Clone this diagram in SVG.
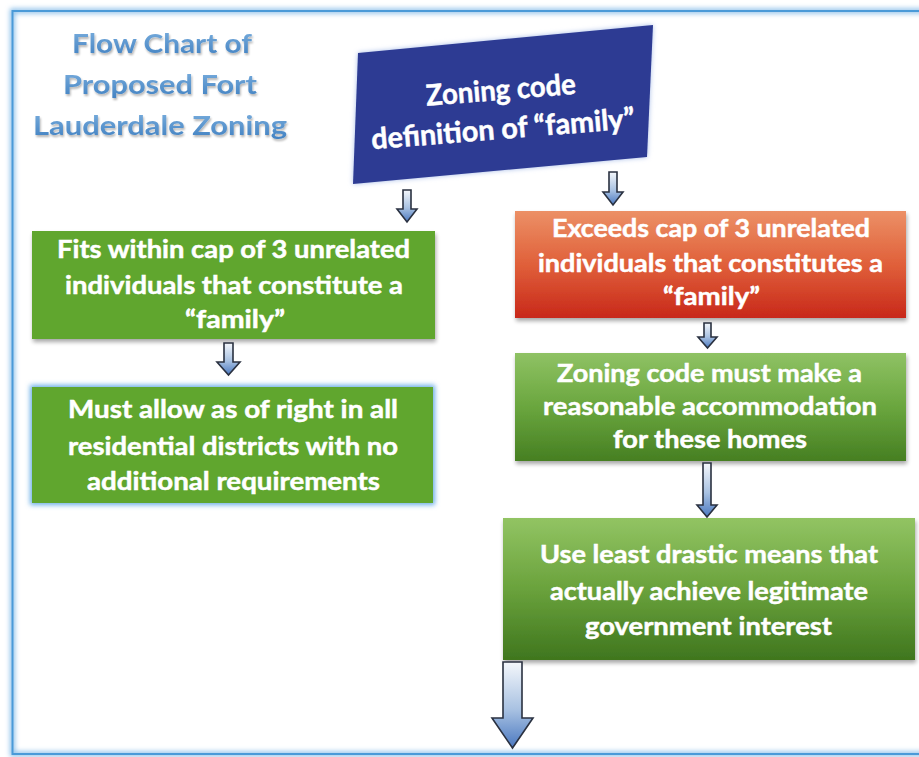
<svg xmlns="http://www.w3.org/2000/svg" width="919" height="757" viewBox="0 0 919 757">
<style>
.t{font-family:Lato,"Open Sans","Liberation Sans",sans-serif;font-weight:bold;fill:#ffffff;stroke:#ffffff;stroke-width:0.5;text-anchor:middle;}
.box{font-size:25.5px;}
.title{font-family:Lato,"Open Sans","Liberation Sans",sans-serif;font-weight:bold;font-size:27.5px;text-anchor:middle;fill:url(#titleGrad);}
.arr{stroke:#2a3140;stroke-width:1.6;fill:url(#arrGrad);stroke-linejoin:miter;}
</style>
<defs>
<linearGradient id="titleGrad" x1="0" y1="0" x2="0" y2="1">
<stop offset="0" stop-color="#7fb2e0"/>
<stop offset="1" stop-color="#3f7fc0"/>
</linearGradient>
<linearGradient id="arrGrad" x1="0" y1="0" x2="0" y2="1">
<stop offset="0" stop-color="#f4f7fb"/>
<stop offset="0.55" stop-color="#a9c2e2"/>
<stop offset="1" stop-color="#4a78c0"/>
</linearGradient>
<linearGradient id="redGrad" x1="0" y1="0" x2="0" y2="1">
<stop offset="0" stop-color="#ec9066"/>
<stop offset="0.5" stop-color="#e0603a"/>
<stop offset="1" stop-color="#c8281a"/>
</linearGradient>
<linearGradient id="g3Grad" x1="0" y1="0" x2="0" y2="1">
<stop offset="0" stop-color="#8fc264"/>
<stop offset="0.5" stop-color="#6aa63e"/>
<stop offset="1" stop-color="#467f22"/>
</linearGradient>
<linearGradient id="g4Grad" x1="0" y1="0" x2="0" y2="1">
<stop offset="0" stop-color="#92c463"/>
<stop offset="0.5" stop-color="#6aa23c"/>
<stop offset="1" stop-color="#3f761e"/>
</linearGradient>
<filter id="shadow" x="-10%" y="-10%" width="120%" height="130%">
<feGaussianBlur in="SourceAlpha" stdDeviation="2"/>
<feOffset dx="1" dy="3" result="o"/>
<feComponentTransfer><feFuncA type="linear" slope="0.35"/></feComponentTransfer>
<feMerge><feMergeNode/><feMergeNode in="SourceGraphic"/></feMerge>
</filter>
<filter id="glow" x="-10%" y="-15%" width="120%" height="130%">
<feGaussianBlur stdDeviation="2.5"/>
</filter>
<filter id="tshadow" x="-5%" y="-20%" width="110%" height="140%">
<feGaussianBlur in="SourceAlpha" stdDeviation="1"/>
<feOffset dx="1" dy="1.5"/>
<feComponentTransfer><feFuncA type="linear" slope="0.3"/></feComponentTransfer>
<feMerge><feMergeNode/><feMergeNode in="SourceGraphic"/></feMerge>
</filter>
</defs>
<rect width="919" height="757" fill="#ffffff"/>
<g id="frame">
<path d="M925,11 L12.5,11 L12.5,754 L925,754" fill="none" stroke="#8cc0ea" stroke-width="5" filter="url(#glow)"/>
<path d="M925,11 L12.5,11 L12.5,754 L925,754" fill="none" stroke="#4a9ad8" stroke-width="2"/>
</g>
<g id="title" filter="url(#tshadow)">
<text class="title" x="162" y="53" textLength="180" lengthAdjust="spacingAndGlyphs">Flow Chart of</text>
<text class="title" x="160" y="94" textLength="194" lengthAdjust="spacingAndGlyphs">Proposed Fort</text>
<text class="title" x="160" y="135" textLength="254" lengthAdjust="spacingAndGlyphs">Lauderdale Zoning</text>
</g>
<g id="node-definition">
<polygon points="358,53 653,25 647,157 353,184" fill="#a8bde8" filter="url(#glow)"/>
<polygon points="358,53 653,25 647,157 353,184" fill="#2d3b93"/>
<g transform="rotate(-4.6 500 118)">
<text class="t" font-size="29" x="503" y="100" textLength="150" lengthAdjust="spacingAndGlyphs">Zoning code</text>
<text class="t" font-size="29" x="502" y="139" textLength="264" lengthAdjust="spacingAndGlyphs">definition of “family”</text>
</g>
</g>
<g id="node-fits">
<rect x="32" y="231" width="403" height="108" fill="#60a62e" filter="url(#shadow)"/>
<text class="t box" x="233.5" y="258" textLength="353" lengthAdjust="spacingAndGlyphs">Fits within cap of 3 unrelated</text>
<text class="t box" x="234" y="294" textLength="338" lengthAdjust="spacingAndGlyphs">individuals that constitute a</text>
<text class="t box" x="235" y="328" textLength="100" lengthAdjust="spacingAndGlyphs">“family”</text>
</g>
<g id="node-allow">
<rect x="30" y="385" width="405" height="120" fill="#6aaee6" filter="url(#glow)"/>
<rect x="32" y="387" width="401" height="116" fill="#60a62e"/>
<text class="t box" x="233" y="418" textLength="330" lengthAdjust="spacingAndGlyphs">Must allow as of right in all</text>
<text class="t box" x="233" y="455" textLength="330" lengthAdjust="spacingAndGlyphs">residential districts with no</text>
<text class="t box" x="233.5" y="490" textLength="293" lengthAdjust="spacingAndGlyphs">additional requirements</text>
</g>
<g id="node-exceeds">
<rect x="515" y="211" width="391" height="107" fill="url(#redGrad)" filter="url(#shadow)"/>
<text class="t box" x="711" y="237" textLength="318" lengthAdjust="spacingAndGlyphs">Exceeds cap of 3 unrelated</text>
<text class="t box" x="710.5" y="272" textLength="345" lengthAdjust="spacingAndGlyphs">individuals that constitutes a</text>
<text class="t box" x="711.5" y="305" textLength="97" lengthAdjust="spacingAndGlyphs">“family”</text>
</g>
<g id="node-accommodation">
<rect x="515" y="353" width="391" height="108" fill="url(#g3Grad)" filter="url(#shadow)"/>
<text class="t box" x="709.5" y="382" textLength="305" lengthAdjust="spacingAndGlyphs">Zoning code must make a</text>
<text class="t box" x="710" y="415" textLength="334" lengthAdjust="spacingAndGlyphs">reasonable accommodation</text>
<text class="t box" x="710" y="448" textLength="194" lengthAdjust="spacingAndGlyphs">for these homes</text>
</g>
<g id="node-least">
<rect x="503" y="518" width="412" height="142" fill="url(#g4Grad)" filter="url(#shadow)"/>
<text class="t box" x="709" y="563" textLength="338" lengthAdjust="spacingAndGlyphs">Use least drastic means that</text>
<text class="t box" x="709" y="600" textLength="318" lengthAdjust="spacingAndGlyphs">actually achieve legitimate</text>
<text class="t box" x="708.5" y="635" textLength="247" lengthAdjust="spacingAndGlyphs">government interest</text>
</g>
<g id="connectors">
<path class="arr" d="M403,190 L411,190 L411,209 L417,209 L407,222 L397,209 L403,209 Z"/>
<path class="arr" d="M609,172 L617,172 L617,192 L623,192 L613,205 L603,192 L609,192 Z"/>
<path class="arr" d="M224,343 L233,343 L233,362 L240,362 L228.5,375 L217,362 L224,362 Z"/>
<path class="arr" d="M704,323 L711,323 L711,337 L717,337 L707.5,348 L698,337 L704,337 Z"/>
<path class="arr" d="M703,463 L711,463 L711,505 L717,505 L707,517 L697,505 L703,505 Z"/>
<path class="arr" d="M503,662 L522,662 L522,718 L533,718 L512.5,748 L492,718 L503,718 Z"/>
</g>
</svg>
